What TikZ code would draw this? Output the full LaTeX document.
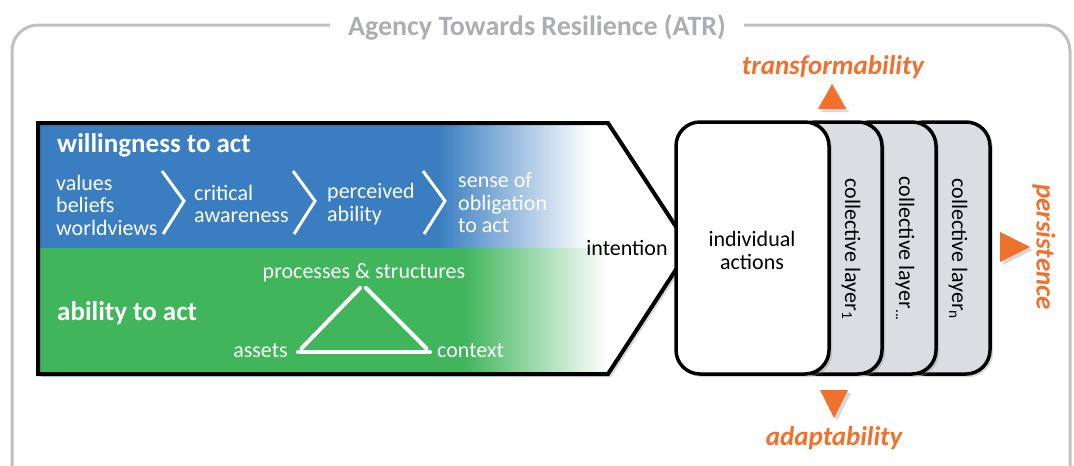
\documentclass[tikz,border=0pt]{standalone}
\usepackage{fontspec}
\setmainfont{Carlito}
\usetikzlibrary{shadows}

\definecolor{atrblue}{RGB}{58,126,193}
\definecolor{atrgreen}{RGB}{64,181,92}
\definecolor{atrorange}{RGB}{240,112,44}
\definecolor{framegray}{RGB}{190,192,196}
\definecolor{titlegray}{RGB}{172,174,178}
\definecolor{layergray}{RGB}{220,221,224}

\begin{document}
\begin{tikzpicture}[x=1pt,y=-1pt,
    txt/.style={inner sep=0pt,text=white,align=left,font=\fontsize{22}{22.5}\selectfont},
    head/.style={inner sep=0pt,text=white,font=\bfseries\fontsize{27}{30}\selectfont},
    plain/.style={inner sep=0pt,align=center,font=\fontsize{22}{23}\selectfont},
    chev/.style={white,line width=3pt},
    tri/.style={white,line width=4pt,line cap=round},
    shd/.style={drop shadow={opacity=0.3,shadow xshift=3pt,shadow yshift=-3pt}},
    layer/.style={draw=black,line width=3.5pt,fill=layergray,rounded corners=24pt,shd},
    orng/.style={inner sep=0pt,text=atrorange,font=\bfseries\itshape\fontsize{27}{30}\selectfont}]
    \useasboundingbox (0,0) rectangle (1074,466);
    \clip (0,0) rectangle (1074,466);

    % outer frame with title
    \draw[framegray,line width=3pt,rounded corners=26pt] (12,25) rectangle (1070,495);
    \node[fill=white,inner xsep=18pt,text=titlegray,font=\bfseries\fontsize{28}{30}\selectfont] (atr) at (537,27) {Agency Towards Resilience (ATR)};

    % arrow: willingness / ability
    \path[fill=white,shd] (38,123) -- (608,123) -- (690,248) -- (608,374) -- (38,374) -- cycle;
    \begin{scope}
        \clip (38,123) -- (608,123) -- (690,248) -- (608,374) -- (38,374) -- cycle;
        \fill[atrblue] (38,123) rectangle (440,248);
        \shade[left color=atrblue,right color=white] (439,123) rectangle (590,248);
        \fill[atrgreen] (38,248) rectangle (465,374);
        \shade[left color=atrgreen,right color=white] (464,248) rectangle (608,374);
    \end{scope}
    \draw[line width=4pt,line join=miter] (38,123) -- (608,123) -- (690,248) -- (608,374) -- (38,374) -- cycle;

    \node[head,anchor=west] (will) at (57,145) {willingness to act};
    \node[txt,anchor=west] (vals) at (56,205) {values\\beliefs\\worldviews};
    \node[txt,anchor=west] (crit) at (194,204) {critical\\awareness};
    \node[txt,anchor=west] (perc) at (327,204) {perceived\\ability};
    \node[txt,anchor=west] (sense) at (458,203) {sense of\\obligation\\to act};
    \draw[chev] (162,171) -- (184,201) -- (163,234);
    \draw[chev] (293,171) -- (315,201) -- (294,234);
    \draw[chev] (423,171) -- (445,201) -- (424,234);

    \node[head,anchor=west] (abl) at (57,313) {ability to act};
    \node[txt] (proc) at (364,273) {processes \& structures};
    \node[txt,anchor=east] (assets) at (288,351) {assets};
    \node[txt,anchor=west] (context) at (437,351) {context};
    \coordinate (ta) at (298,352);
    \coordinate (tc) at (430,352);
    \coordinate (tp) at (363,285);
    \draw[tri] (ta) -- (tc);
    \draw[tri,shorten <=5pt,shorten >=4pt] (ta) -- (tp);
    \draw[tri,shorten <=4pt,shorten >=5pt] (tp) -- (tc);

    \node[plain] (int) at (627,248) {intention};

    % stacked layers
    \draw[layer] (900,122) rectangle (990,374);
    \draw[layer] (846,122) rectangle (936,374);
    \draw[layer] (792,122) rectangle (882,374);
    \draw[layer,fill=white] (676,122) rectangle (829,374);
    \node[plain] (ind) at (752,250) {individual\\actions};
    \node[plain,rotate=-90] (lay1) at (851,249) {collective layer\textsubscript{1}};
    \node[plain,rotate=-90] (lay2) at (905,249) {collective layer\textsubscript{...}};
    \node[plain,rotate=-90] (layn) at (958,249) {collective layer\textsubscript{n}};

    % outcomes
    \fill[atrorange,shd] (818,109) -- (846,109) -- (832,84) -- cycle;
    \node[orng] (trans) at (833,67) {transformability};
    \fill[atrorange,shd] (820,390) -- (848,390) -- (834,418) -- cycle;
    \node[orng] (adapt) at (834,438) {adaptability};
    \fill[atrorange,shd] (1000,232) -- (1000,262) -- (1030,247) -- cycle;
    \node[orng,rotate=-90] (pers) at (1044,247) {persistence};
\end{tikzpicture}
\end{document}
